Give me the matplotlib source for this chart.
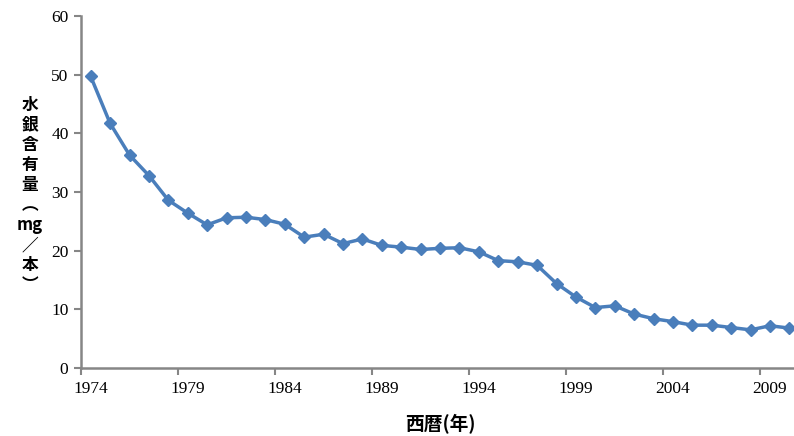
import numpy as np
import matplotlib
matplotlib.use('Agg')
import matplotlib.pyplot as plt
from matplotlib.ticker import FixedLocator, NullFormatter, FixedFormatter

# Datos: contenido de mercurio por año
anios = list(range(1974, 2011))
mercurio = [49.7, 41.7, 36.3, 32.8, 28.6, 26.4, 24.4, 25.6, 25.7, 25.3,
            24.5, 22.3, 22.8, 21.2, 22.0, 20.9, 20.6, 20.2, 20.4, 20.5,
            19.8, 18.3, 18.1, 17.5, 14.4, 12.1, 10.3, 10.6, 9.2, 8.4,
            7.9, 7.3, 7.3, 6.9, 6.5, 7.2, 6.8]
etiquetas_x = ['1974', '1979', '1984', '1989', '1994', '1999', '2004', '2009']
ylabel_chars = ['水', '銀', '含', '有', '量', '︵', 'mg', '／', '本', '︶']

W, H = 794, 436
fig = plt.figure(figsize=(W / 100, H / 100), dpi=100)
ax = fig.add_axes([81 / W, (H - 368) / H, (W - 81) / W, (368 - 16) / H])

x = np.arange(len(anios))
ax.plot(x, mercurio, '-', color='#4A7EBB', lw=2.5, marker='D', ms=6.5,
        markerfacecolor='#4A7EBB', markeredgecolor='#4A7EBB', clip_on=False)

ax.set_ylim(0, 60)
ax.set_xlim(-0.5, (W - 91) / 19.4)
ax.set_yticks(range(0, 61, 10))

# Marcas entre categorias, etiquetas centradas en la categoria
ax.xaxis.set_major_locator(FixedLocator(np.arange(-0.5, len(anios), 5)))
ax.xaxis.set_major_formatter(NullFormatter())
ax.xaxis.set_minor_locator(FixedLocator(np.arange(0, len(anios), 5)))
ax.xaxis.set_minor_formatter(FixedFormatter(etiquetas_x))
ax.tick_params(axis='x', which='major', length=5, width=1.5, color='#868686', direction='out')
ax.tick_params(axis='x', which='minor', length=0, pad=9)
ax.tick_params(axis='y', length=5, width=1.5, color='#868686', direction='out', pad=4)

for lab in ax.get_xticklabels(minor=True) + ax.get_yticklabels():
    lab.set_fontfamily('Liberation Serif')
    lab.set_fontsize(12.5)

for s in ['top', 'right']:
    ax.spines[s].set_visible(False)
for s in ['left', 'bottom']:
    ax.spines[s].set_color('#868686')
    ax.spines[s].set_linewidth(1.8)

fig.text(30 / W, 1 - 195 / H, '\n'.join(ylabel_chars), ha='center', va='center',
         fontsize=12, fontweight='bold', linespacing=1.15,
         family=['Noto Sans CJK JP', 'DejaVu Sans'])
fig.text(440 / W, 1 - 424 / H, '西暦(年)', ha='center', va='center',
         fontsize=13.5, fontweight='bold', family=['Noto Sans CJK JP', 'DejaVu Sans'])

fig.savefig('out.png', dpi=100)
